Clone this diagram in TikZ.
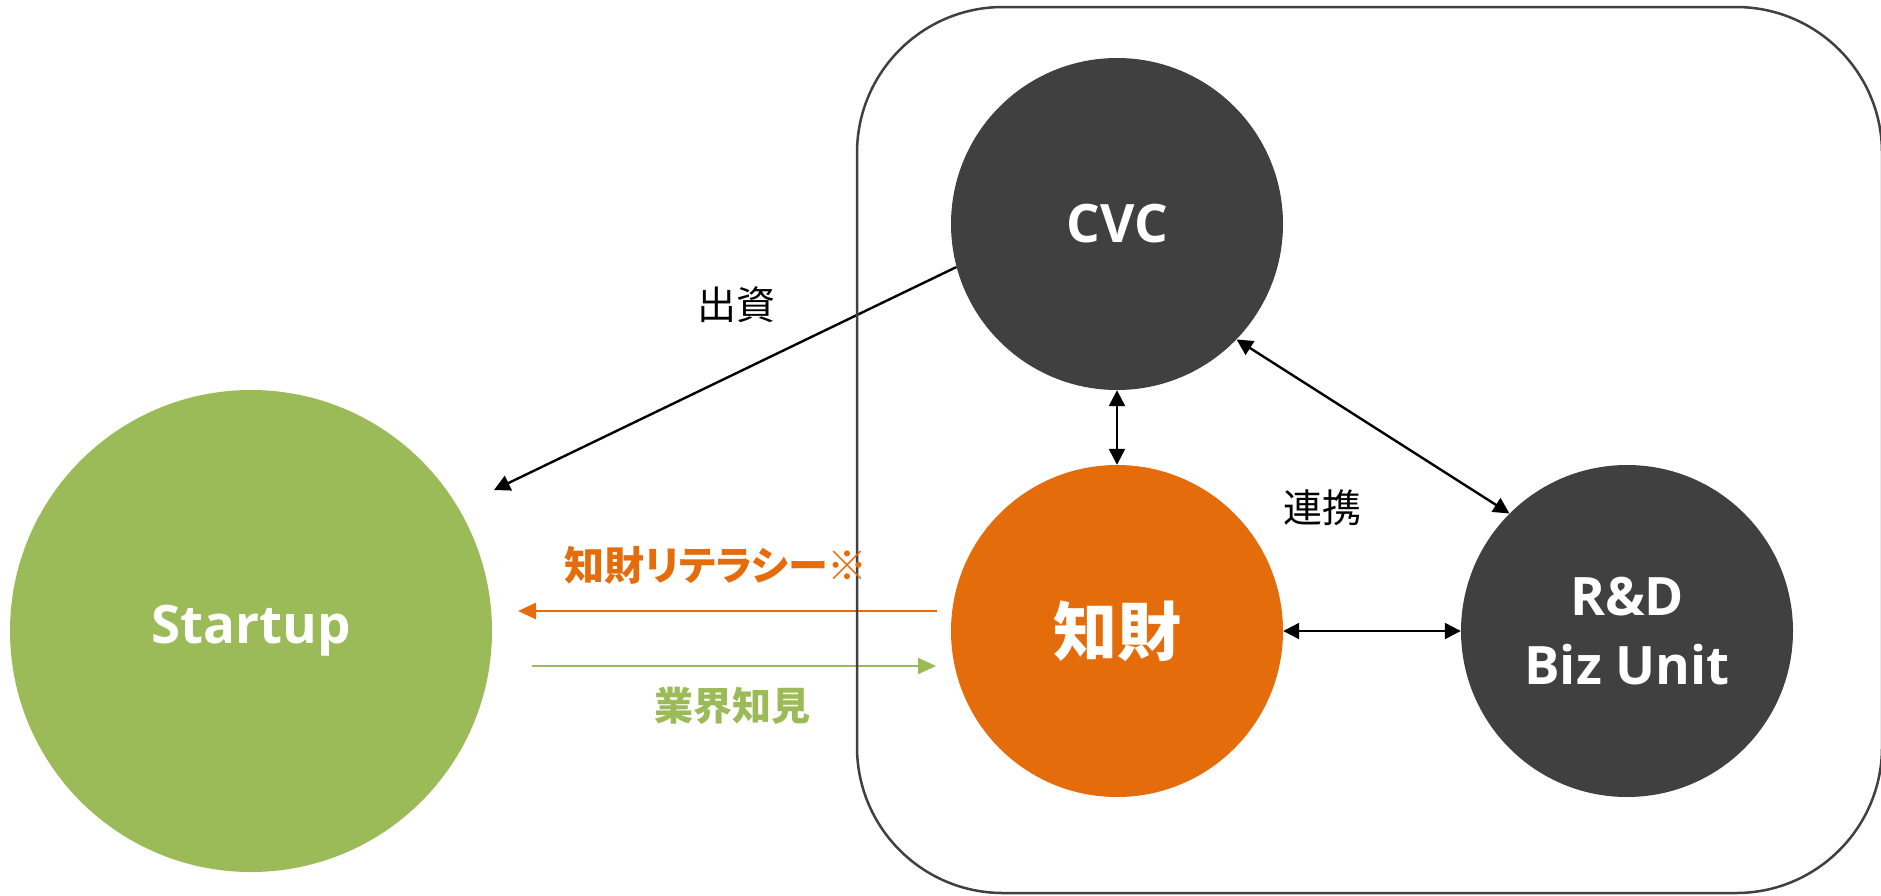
\documentclass[tikz,border=0pt]{standalone}
\usepackage{fontspec}
\setmainfont{Open Sans}
\newfontfamily\cjk{Noto Sans CJK JP}
\newfontfamily\cjkp[RawFeature=+palt]{Noto Sans CJK JP}
\usetikzlibrary{arrows.meta}
\definecolor{dgrey}{HTML}{404040}
\definecolor{ipor}{HTML}{E46C0A}
\definecolor{bizgreen}{HTML}{9BBB59}
\begin{document}
\begin{tikzpicture}[x=1pt,y=-1pt,
  bubble/.style={circle, inner sep=0pt, text=white, align=center,
    font=\bfseries\fontsize{53}{69}\selectfont},
  link/.style={line width=2.4pt, draw=black},
  oneway/.style={link, -{Triangle[length=16pt,width=16pt]}},
  twoway/.style={link, {Triangle[length=16pt,width=16pt]}-{Triangle[length=16pt,width=16pt]}},
  flow/.style={line width=2.4pt, -{Triangle[length=18pt,width=16pt]}},
  plain/.style={font=\cjk\fontsize{39}{39}\selectfont, inner sep=0pt},
  boldlbl/.style={font=\cjk\bfseries\fontsize{39}{39}\selectfont, inner sep=0pt}
]
\useasboundingbox (0,0) rectangle (1881,895);

% nodes
\node[bubble, fill=dgrey, minimum size=332pt] (cvc) at (1117,224) {CVC};
\node[bubble, fill=ipor, minimum size=332pt, font=\cjk\bfseries\fontsize{64}{64}\selectfont] (ip) at (1117,631) {知財};
\node[bubble, fill=dgrey, minimum size=332pt] (rd) at (1627,631) {R\&D\\Biz Unit};
\node[bubble, fill=bizgreen, minimum size=482pt] (startup) at (251,631) {Startup};

% free ends
\coordinate (invEnd) at (494,490);
\coordinate (oStart) at (937,611);
\coordinate (oEnd) at (518,611);
\coordinate (gStart) at (532,666);
\coordinate (gEnd) at (936,666);

% connectors
\draw[oneway] (cvc.195) -- (invEnd);
\draw[twoway] (cvc.south) -- (ip.north);
\draw[twoway] (cvc.-44) -- (rd.135);
\draw[twoway] (ip.east) -- (rd.west);
\draw[flow, draw=ipor, fill=ipor] (oStart) -- (oEnd);
\draw[flow, draw=bizgreen, fill=bizgreen] (gStart) -- (gEnd);

% container
\draw[dgrey, line width=2.5pt, rounded corners=146pt] (857,7) rectangle (1882,893);

% labels
\node[plain] (lblinv) at (736,305) {出資};
\node[plain] (lblcoop) at (1322,508) {連携};
\node[boldlbl, text=ipor, font=\cjkp\bfseries\fontsize{40}{40}\selectfont] (lbllit) at (716,565) {知財リテラシー※};
\node[boldlbl, text=bizgreen] (lblind) at (732,706) {業界知見};
\end{tikzpicture}
\end{document}
